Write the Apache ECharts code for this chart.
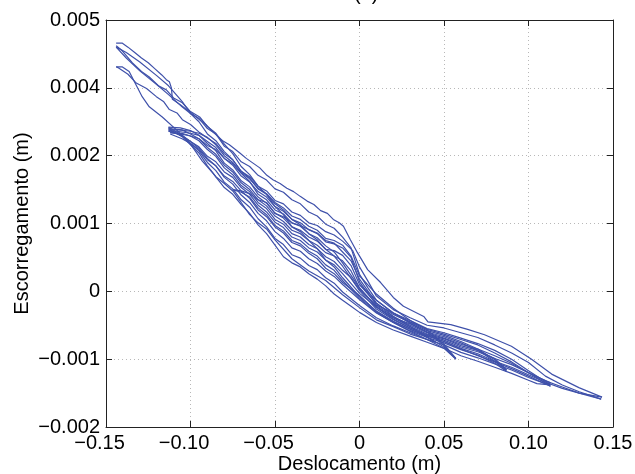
<!DOCTYPE html>
<html>
<head>
<meta charset="utf-8">
<script src="https://cdn.jsdelivr.net/npm/echarts@6/dist/echarts.min.js"></script>
<style>html,body{margin:0;padding:0;background:#fff;}#c{width:635px;height:474px;}</style>
</head>
<body>
<div id="c"></div>
<script>
// ---- tick values and labels (as printed on the reference) ----
const xTickValues = [-0.15, -0.10, -0.05, 0, 0.05, 0.10, 0.15];
const xTickLabels = ['−0.15', '−0.10', '−0.05', '0', '0.05', '0.10', '0.15'];
const yTickValues = [-0.002, -0.001, 0, 0.001, 0.002, 0.003, 0.004];
const yTickLabels = ['−0.002', '−0.001', '0', '0.001', '0.002', '0.004', '0.005'];

// ---- hysteresis sweeps: [displacement (m), slip (m)] ----
const sweepR1 = [[0.000,0.00010],[0.010,-0.00013],[0.020,-0.00032],[0.030,-0.00047],[0.040,-0.00060],[0.050,-0.00080],[0.057,-0.00100]];
const sweepL1 = [[0.057,-0.00100],[0.050,-0.00084],[0.040,-0.00071],[0.030,-0.00063],[0.020,-0.00052],[0.010,-0.00042],[0.000,-0.00024],[-0.010,-0.00005],[-0.020,0.00016],[-0.030,0.00030],[-0.040,0.00048],[-0.050,0.00076],[-0.055,0.00092],[-0.060,0.00101],[-0.065,0.00113],[-0.070,0.00131],[-0.075,0.00148],[-0.080,0.00159],[-0.085,0.00169],[-0.090,0.00185],[-0.095,0.00204],[-0.100,0.00216],[-0.105,0.00228],[-0.113,0.00240]];
const sweepR2 = [[-0.113,0.00240],[-0.105,0.00238],[-0.100,0.00232],[-0.095,0.00225],[-0.090,0.00212],[-0.085,0.00202],[-0.080,0.00186],[-0.075,0.00176],[-0.070,0.00160],[-0.065,0.00150],[-0.060,0.00135],[-0.055,0.00126],[-0.050,0.00111],[-0.045,0.00103],[-0.040,0.00090],[-0.035,0.00085],[-0.030,0.00075],[-0.025,0.00068],[-0.020,0.00057],[-0.015,0.00052],[-0.010,0.00045],[-0.005,0.00030],[0.000,0.00005],[0.010,-0.00023],[0.020,-0.00039],[0.030,-0.00048],[0.040,-0.00060],[0.050,-0.00067],[0.060,-0.00076],[0.070,-0.00087],[0.080,-0.00103],[0.087,-0.00118]];
const sweepL2 = [[0.087,-0.00118],[0.080,-0.00106],[0.070,-0.00094],[0.060,-0.00086],[0.050,-0.00076],[0.040,-0.00068],[0.030,-0.00058],[0.020,-0.00046],[0.010,-0.00032],[0.000,-0.00012],[-0.010,0.00010],[-0.015,0.00022],[-0.020,0.00030],[-0.025,0.00041],[-0.030,0.00048],[-0.035,0.00059],[-0.040,0.00064],[-0.045,0.00078],[-0.050,0.00088],[-0.055,0.00104],[-0.060,0.00115],[-0.065,0.00131],[-0.070,0.00142],[-0.075,0.00158],[-0.080,0.00168],[-0.085,0.00185],[-0.090,0.00196],[-0.095,0.00211],[-0.100,0.00221],[-0.105,0.00230],[-0.113,0.00236]];
const sweepR3 = [[-0.113,0.00236],[-0.108,0.00236],[-0.100,0.00233],[-0.095,0.00230],[-0.090,0.00221],[-0.085,0.00212],[-0.080,0.00196],[-0.075,0.00186],[-0.070,0.00170],[-0.065,0.00161],[-0.060,0.00147],[-0.055,0.00139],[-0.050,0.00125],[-0.045,0.00118],[-0.040,0.00106],[-0.035,0.00101],[-0.030,0.00091],[-0.025,0.00085],[-0.020,0.00073],[-0.015,0.00070],[-0.010,0.00064],[-0.005,0.00050],[0.000,0.00014],[0.010,-0.00020],[0.020,-0.00032],[0.030,-0.00043],[0.040,-0.00055],[0.050,-0.00061],[0.060,-0.00069],[0.070,-0.00077],[0.080,-0.00087],[0.090,-0.00100],[0.100,-0.00117],[0.113,-0.00138]];
const sweepL3 = [[0.113,-0.00138],[0.105,-0.00136],[0.100,-0.00131],[0.090,-0.00121],[0.080,-0.00112],[0.070,-0.00103],[0.060,-0.00095],[0.050,-0.00084],[0.040,-0.00075],[0.030,-0.00066],[0.020,-0.00057],[0.010,-0.00046],[0.000,-0.00031],[-0.005,-0.00022],[-0.010,-0.00013],[-0.015,-0.00004],[-0.020,0.00008],[-0.025,0.00018],[-0.030,0.00026],[-0.035,0.00036],[-0.040,0.00042],[-0.045,0.00051],[-0.050,0.00068],[-0.055,0.00085],[-0.060,0.00098],[-0.065,0.00115],[-0.070,0.00128],[-0.075,0.00143],[-0.080,0.00153],[-0.087,0.00175],[-0.093,0.00192],[-0.1006,0.00219],[-0.1083,0.00238],[-0.1167,0.00257],[-0.1244,0.00272],[-0.1286,0.00287],[-0.1363,0.00324],[-0.1405,0.00331],[-0.144,0.00331]];
const sweepR4 = [[-0.144,0.00331],[-0.1423,0.00329],[-0.137,0.00320],[-0.1321,0.00307],[-0.126,0.00299],[-0.1202,0.00287],[-0.116,0.00280],[-0.1125,0.00268],[-0.108,0.00263],[-0.1048,0.00253],[-0.100,0.00246],[-0.0946,0.00234],[-0.090,0.00226],[-0.085,0.00218],[-0.080,0.00203],[-0.075,0.00194],[-0.070,0.00177],[-0.065,0.00169],[-0.060,0.00155],[-0.055,0.00148],[-0.050,0.00134],[-0.045,0.00129],[-0.040,0.00117],[-0.035,0.00112],[-0.030,0.00101],[-0.025,0.00097],[-0.020,0.00088],[-0.015,0.00083],[-0.010,0.00074],[-0.004,0.00060],[0.000,0.00036],[0.005,0.00015],[0.010,-0.00007],[0.020,-0.00027],[0.030,-0.00039],[0.040,-0.00050],[0.050,-0.00054],[0.060,-0.00061],[0.070,-0.00068],[0.080,-0.00079],[0.090,-0.00091],[0.100,-0.00105],[0.110,-0.00125],[0.120,-0.00138],[0.130,-0.00148],[0.143,-0.00159]];
const sweepL4 = [[0.143,-0.00159],[0.130,-0.00150],[0.120,-0.00143],[0.110,-0.00134],[0.100,-0.00123],[0.090,-0.00112],[0.080,-0.00103],[0.070,-0.00092],[0.060,-0.00084],[0.050,-0.00074],[0.040,-0.00066],[0.030,-0.00056],[0.020,-0.00044],[0.010,-0.00029],[0.000,-0.00008],[-0.010,0.00020],[-0.015,0.00036],[-0.020,0.00046],[-0.025,0.00063],[-0.030,0.00075],[-0.035,0.00088],[-0.040,0.00095],[-0.045,0.00113],[-0.050,0.00125],[-0.055,0.00143],[-0.060,0.00155],[-0.065,0.00172],[-0.070,0.00184],[-0.075,0.00203],[-0.080,0.00217],[-0.085,0.00233],[-0.090,0.00243],[-0.0946,0.00257],[-0.100,0.00265],[-0.1048,0.00278],[-0.110,0.00285],[-0.1143,0.00297],[-0.119,0.00303],[-0.1244,0.00316],[-0.129,0.00324],[-0.1345,0.00337],[-0.1405,0.00355],[-0.144,0.00362]];
const sweepR5 = [[-0.144,0.00366],[-0.1405,0.00366],[-0.137,0.00360],[-0.133,0.00352],[-0.129,0.00344],[-0.125,0.00337],[-0.121,0.00328],[-0.117,0.00319],[-0.1143,0.00312],[-0.1125,0.00309],[-0.1113,0.00300],[-0.1107,0.00283],[-0.106,0.00275],[-0.1024,0.00268],[-0.099,0.00262],[-0.0946,0.00253],[-0.091,0.00246],[-0.0887,0.00240],[-0.085,0.00231],[-0.081,0.00222],[-0.077,0.00216],[-0.0708,0.00204],[-0.067,0.00196],[-0.063,0.00189],[-0.059,0.00182],[-0.0548,0.00171],[-0.051,0.00164],[-0.047,0.00159],[-0.043,0.00152],[-0.039,0.00147],[-0.0351,0.00140],[-0.031,0.00133],[-0.027,0.00128],[-0.023,0.00119],[-0.019,0.00115],[-0.0155,0.00106],[-0.012,0.00101],[-0.0095,0.00096],[-0.0054,0.00076],[-0.0012,0.00057],[0.0048,0.00032],[0.0125,0.00013],[0.020,-0.00009],[0.026,-0.00022],[0.038,-0.00037],[0.0405,-0.00045],[0.054,-0.00049],[0.064,-0.00056],[0.074,-0.00064],[0.0899,-0.00081],[0.1018,-0.00100],[0.1137,-0.00122],[0.1298,-0.00142],[0.1435,-0.00156]];
const sweepL5 = [[0.1435,-0.00156],[0.130,-0.00150],[0.120,-0.00141],[0.110,-0.00132],[0.100,-0.00120],[0.090,-0.00108],[0.080,-0.00099],[0.070,-0.00089],[0.060,-0.00082],[0.050,-0.00072],[0.040,-0.00064],[0.030,-0.00054],[0.020,-0.00042],[0.010,-0.00026],[0.000,0.00001],[-0.010,0.00037],[-0.015,0.00052],[-0.020,0.00062],[-0.025,0.00076],[-0.030,0.00085],[-0.035,0.00098],[-0.040,0.00106],[-0.045,0.00120],[-0.050,0.00129],[-0.055,0.00143],[-0.060,0.00151],[-0.065,0.00167],[-0.070,0.00177],[-0.075,0.00194],[-0.080,0.00206],[-0.085,0.00222],[-0.090,0.00232],[-0.095,0.00250],[-0.100,0.00262],[-0.105,0.00272],[-0.113,0.00290],[-0.120,0.00305],[-0.130,0.00325],[-0.138,0.00344],[-0.144,0.00360]];
const sweepR6 = [[-0.144,0.00360],[-0.138,0.00352],[-0.130,0.00338],[-0.120,0.00318],[-0.113,0.00303],[-0.105,0.00280],[-0.100,0.00262],[-0.095,0.00255],[-0.090,0.00240],[-0.085,0.00232],[-0.080,0.00214],[-0.075,0.00206],[-0.070,0.00191],[-0.065,0.00184],[-0.060,0.00171],[-0.055,0.00164],[-0.050,0.00151],[-0.045,0.00146],[-0.040,0.00135],[-0.035,0.00129],[-0.030,0.00117],[-0.025,0.00111],[-0.020,0.00099],[-0.015,0.00093],[-0.010,0.00080],[-0.005,0.00064],[0.000,0.00025],[0.005,0.00005],[0.010,-0.00013],[0.020,-0.00032],[0.030,-0.00045],[0.040,-0.00056],[0.050,-0.00063],[0.060,-0.00071],[0.070,-0.00079],[0.080,-0.00091],[0.090,-0.00104],[0.100,-0.00120],[0.113,-0.00135]];
const sweepL6 = [[0.113,-0.00135],[0.110,-0.00136],[0.100,-0.00127],[0.090,-0.00116],[0.080,-0.00107],[0.070,-0.00098],[0.060,-0.00090],[0.050,-0.00079],[0.040,-0.00071],[0.030,-0.00061],[0.020,-0.00051],[0.010,-0.00039],[0.000,-0.00021],[-0.010,-0.00001],[-0.015,0.00012],[-0.020,0.00020],[-0.025,0.00032],[-0.030,0.00038],[-0.035,0.00049],[-0.040,0.00054],[-0.045,0.00069],[-0.050,0.00078],[-0.055,0.00095],[-0.060,0.00107],[-0.065,0.00124],[-0.070,0.00135],[-0.075,0.00151],[-0.080,0.00161],[-0.085,0.00178],[-0.090,0.00190],[-0.095,0.00207],[-0.100,0.00218],[-0.105,0.00230],[-0.113,0.00242]];
const sweepR7 = [[-0.113,0.00242],[-0.106,0.00241],[-0.100,0.00237],[-0.095,0.00230],[-0.090,0.00218],[-0.085,0.00207],[-0.080,0.00189],[-0.075,0.00179],[-0.070,0.00163],[-0.065,0.00154],[-0.060,0.00139],[-0.055,0.00130],[-0.050,0.00115],[-0.045,0.00108],[-0.040,0.00095],[-0.035,0.00090],[-0.030,0.00080],[-0.025,0.00074],[-0.020,0.00062],[-0.015,0.00060],[-0.010,0.00053],[-0.005,0.00038],[0.000,0.00010],[0.010,-0.00018],[0.020,-0.00034],[0.030,-0.00046],[0.040,-0.00058],[0.050,-0.00065],[0.060,-0.00074],[0.070,-0.00085],[0.080,-0.00101],[0.087,-0.00116]];
const sweepL7 = [[0.087,-0.00116],[0.080,-0.00099],[0.070,-0.00087],[0.060,-0.00080],[0.050,-0.00070],[0.040,-0.00063],[0.030,-0.00052],[0.020,-0.00039],[0.010,-0.00023],[0.000,-0.00003],[-0.010,0.00026],[-0.015,0.00039],[-0.020,0.00046],[-0.025,0.00058],[-0.030,0.00064],[-0.035,0.00075],[-0.040,0.00080],[-0.045,0.00094],[-0.050,0.00102],[-0.055,0.00117],[-0.060,0.00127],[-0.065,0.00143],[-0.070,0.00153],[-0.075,0.00168],[-0.080,0.00176],[-0.085,0.00191],[-0.090,0.00199],[-0.095,0.00213],[-0.100,0.00221],[-0.105,0.00229],[-0.113,0.00238]];
const sweepR8 = [[-0.113,0.00238],[-0.107,0.00238],[-0.100,0.00236],[-0.095,0.00233],[-0.090,0.00227],[-0.085,0.00216],[-0.080,0.00200],[-0.075,0.00190],[-0.070,0.00175],[-0.065,0.00166],[-0.060,0.00152],[-0.055,0.00144],[-0.050,0.00131],[-0.045,0.00123],[-0.040,0.00111],[-0.035,0.00106],[-0.030,0.00096],[-0.025,0.00090],[-0.020,0.00078],[-0.015,0.00075],[-0.010,0.00068],[-0.005,0.00052],[0.000,0.00023],[0.010,-0.00004],[0.020,-0.00025],[0.030,-0.00043],[0.040,-0.00057],[0.050,-0.00078],[0.057,-0.00099]];
const sweepL8 = [[0.057,-0.00099],[0.050,-0.00082],[0.040,-0.00067],[0.030,-0.00056],[0.020,-0.00045],[0.010,-0.00030],[0.000,-0.00006],[-0.010,0.00013],[-0.015,0.00026],[-0.020,0.00034],[-0.025,0.00048],[-0.030,0.00056],[-0.035,0.00067],[-0.040,0.00072],[-0.045,0.00086],[-0.050,0.00095],[-0.055,0.00110],[-0.060,0.00120],[-0.065,0.00137],[-0.070,0.00148],[-0.075,0.00162],[-0.080,0.00170],[-0.085,0.00185],[-0.090,0.00194],[-0.095,0.00209],[-0.100,0.00218],[-0.105,0.00225],[-0.112,0.00232]];
const sweepR9 = [[-0.112,0.00234],[-0.105,0.00233],[-0.100,0.00229],[-0.095,0.00222],[-0.090,0.00209],[-0.085,0.00199],[-0.080,0.00182],[-0.075,0.00172],[-0.070,0.00156],[-0.065,0.00147],[-0.060,0.00131],[-0.055,0.00122],[-0.050,0.00106],[-0.045,0.00099],[-0.040,0.00085],[-0.035,0.00080],[-0.030,0.00069],[-0.025,0.00063],[-0.020,0.00051],[-0.015,0.00044],[-0.010,0.00031],[-0.005,0.00020],[0.000,0.00003],[0.010,-0.00021],[0.020,-0.00037],[0.030,-0.00050],[0.040,-0.00061],[0.050,-0.00069],[0.060,-0.00078],[0.070,-0.00085],[0.080,-0.00095],[0.090,-0.00106],[0.100,-0.00120],[0.113,-0.00140]];
const sweepL9 = [[0.113,-0.00140],[0.100,-0.00125],[0.090,-0.00114],[0.080,-0.00104],[0.070,-0.00095],[0.060,-0.00085],[0.050,-0.00074],[0.040,-0.00065],[0.030,-0.00054],[0.020,-0.00041],[0.010,-0.00023],[0.000,0.00005],[-0.010,0.00042],[-0.015,0.00058],[-0.020,0.00067],[-0.025,0.00079],[-0.030,0.00085],[-0.035,0.00096],[-0.040,0.00101],[-0.045,0.00114],[-0.050,0.00120],[-0.055,0.00135],[-0.060,0.00143],[-0.065,0.00162],[-0.070,0.00174],[-0.075,0.00188],[-0.080,0.00196],[-0.085,0.00209],[-0.090,0.00215],[-0.095,0.00225],[-0.100,0.00229],[-0.106,0.00232],[-0.112,0.00234]];
const sweepR10 = [[-0.075,0.00150],[-0.070,0.00148],[-0.065,0.00144],[-0.060,0.00135],[-0.055,0.00131],[-0.050,0.00115],[-0.045,0.00110],[-0.040,0.00101],[-0.035,0.00097],[-0.030,0.00091],[-0.025,0.00086],[-0.020,0.00075],[-0.015,0.00071],[-0.010,0.00058],[-0.005,0.00045],[0.000,0.00018],[0.010,-0.00017],[0.020,-0.00037],[0.030,-0.00052],[0.040,-0.00068],[0.045,-0.00075]];
const sweepL10 = [[0.045,-0.00075],[0.040,-0.00071],[0.030,-0.00059],[0.020,-0.00046],[0.010,-0.00031],[0.000,-0.00010],[-0.010,0.00016],[-0.015,0.00031],[-0.020,0.00039],[-0.025,0.00052],[-0.030,0.00059],[-0.035,0.00070],[-0.040,0.00075],[-0.045,0.00089],[-0.050,0.00097],[-0.055,0.00113],[-0.060,0.00123],[-0.065,0.00139],[-0.070,0.00146],[-0.075,0.00150]];

const sweeps = [sweepR1, sweepL1, sweepR2, sweepL2, sweepR3, sweepL3, sweepR4, sweepL4,
                sweepR5, sweepL5, sweepR6, sweepL6, sweepR7, sweepL7, sweepR8, sweepL8,
                sweepR9, sweepL9, sweepR10, sweepL10];

const FONT = '"Liberation Sans", Arial, Helvetica, sans-serif';
const LINE = '#3f51aa';

function nearestIdx(arr, v) {
  let best = 0, bd = Infinity;
  arr.forEach((t, i) => { const d = Math.abs(t - v); if (d < bd) { bd = d; best = i; } });
  return best;
}

const chart = echarts.init(document.getElementById('c'), null, { renderer: 'canvas' });

const gridLine = { show: true, lineStyle: { color: '#b8b8b8', type: [1, 3], width: 1 } };
const frameLine = { show: true, onZero: false, lineStyle: { color: '#222', width: 1 } };
const tickIn = { show: true, inside: true, length: 6, lineStyle: { color: '#222', width: 1 } };

chart.setOption({
  animation: false,
  backgroundColor: '#fff',
  title: {
    text: '(a)', left: 349, top: -21,
    textStyle: { fontFamily: FONT, fontSize: 20, fontWeight: 'normal', color: '#000' }
  },
  grid: { left: 106, right: 22, top: 20, bottom: 47, containLabel: false, outerBoundsMode: 'none' },
  xAxis: [{
    type: 'value', min: -0.15, max: 0.15, interval: 0.05, position: 'bottom',
    name: 'Deslocamento (m)', nameLocation: 'middle', nameGap: 27, nameMoveOverlap: false,
    nameTextStyle: { fontFamily: FONT, fontSize: 20, color: '#000' },
    axisLine: frameLine, axisTick: tickIn, splitLine: gridLine,
    axisLabel: {
      show: true, margin: 6, showMinLabel: true, showMaxLabel: true, hideOverlap: false,
      fontFamily: FONT, fontSize: 20, color: '#000',
      formatter: function (v) {
        const s = xTickLabels[nearestIdx(xTickValues, v)];
        return s.charAt(0) === '−' ? '{n|' + s + '}' : '{p|' + s + '}';
      },
      rich: {
        n: { fontFamily: FONT, fontSize: 20, color: '#000', padding: [0, 13, 0, 0] },
        p: { fontFamily: FONT, fontSize: 20, color: '#000' }
      }
    }
  }, {
    type: 'value', min: -0.15, max: 0.15, interval: 0.05, position: 'top',
    axisLine: frameLine, axisTick: tickIn, splitLine: { show: false }, axisLabel: { show: false }
  }],
  yAxis: [{
    type: 'value', min: -0.002, max: 0.004, interval: 0.001, position: 'left',
    name: 'Escorregamento (m)', nameLocation: 'middle', nameGap: 74, nameRotate: 90, nameMoveOverlap: false,
    nameTextStyle: { fontFamily: FONT, fontSize: 20, color: '#000' },
    axisLine: frameLine, axisTick: tickIn, splitLine: gridLine,
    axisLabel: {
      show: true, margin: 6, showMinLabel: true, showMaxLabel: true, hideOverlap: false,
      fontFamily: FONT, fontSize: 20, color: '#000',
      formatter: function (v) { return yTickLabels[nearestIdx(yTickValues, v)]; }
    }
  }, {
    type: 'value', min: -0.002, max: 0.004, interval: 0.001, position: 'right',
    axisLine: frameLine, axisTick: tickIn, splitLine: { show: false }, axisLabel: { show: false }
  }],
  series: sweeps.map((d, i) => ({
    name: 'sweep' + (i + 1), type: 'line', data: d, xAxisIndex: 0, yAxisIndex: 0,
    showSymbol: false, symbol: 'none', smooth: false, clip: true,
    lineStyle: { color: LINE, width: 1.2 }, emphasis: { disabled: true }, silent: true
  }))
});
</script>
</body>
</html>
